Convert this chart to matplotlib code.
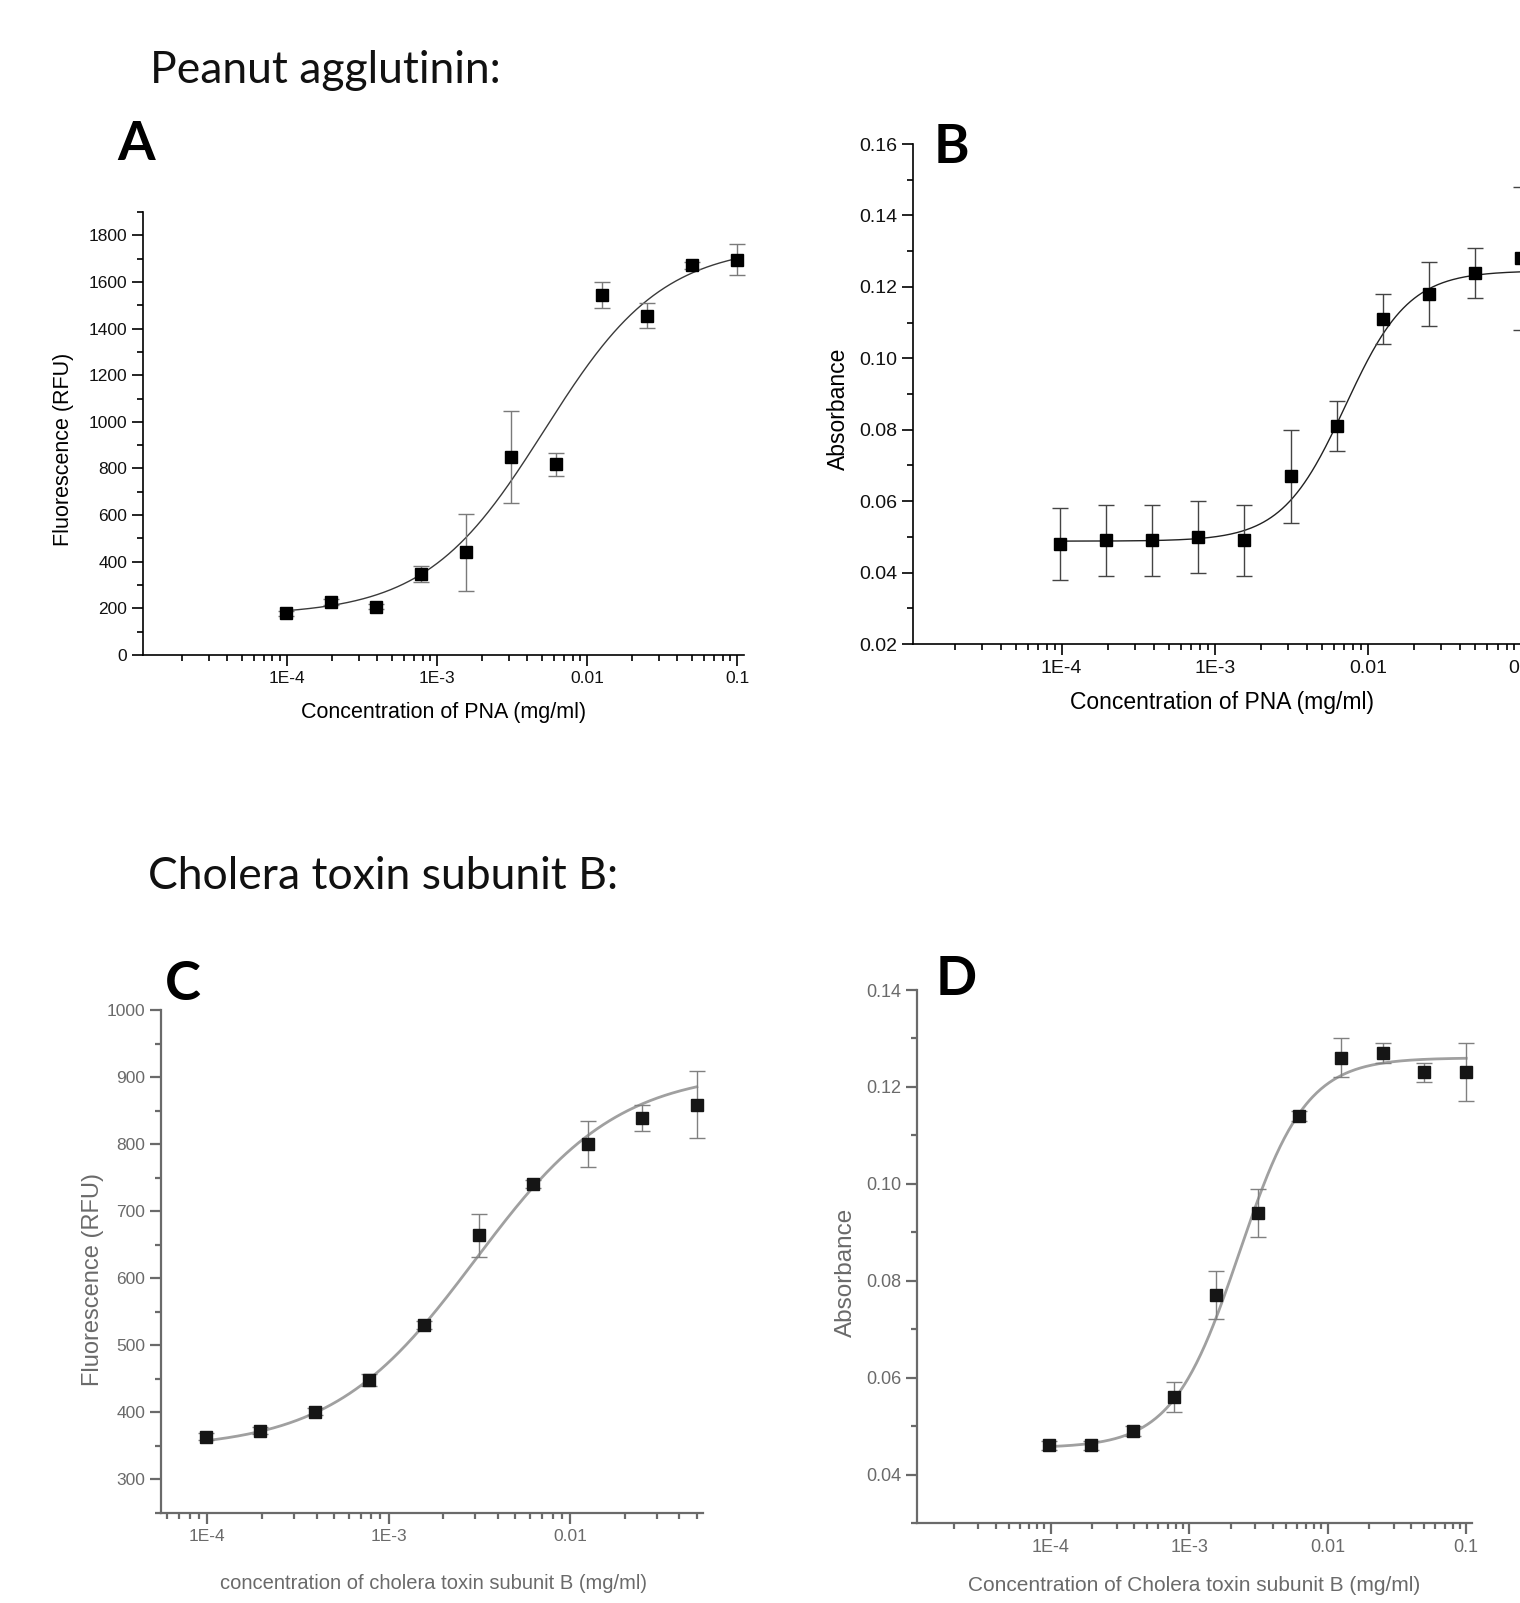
import numpy as np
import matplotlib
matplotlib.use("Agg")
import matplotlib.pyplot as plt
from matplotlib.ticker import FixedLocator, FixedFormatter, LogLocator, MultipleLocator, NullFormatter, FormatStrFormatter

plt.rcParams['font.family'] = ['Liberation Sans', 'DejaVu Sans']

# two-fold serial dilutions (mg/ml)
conc_11 = [0.0000977, 0.000195, 0.000391, 0.000781, 0.00156, 0.00313, 0.00625, 0.0125, 0.025, 0.05, 0.1]
conc_10 = [0.0000977, 0.000195, 0.000391, 0.000781, 0.00156, 0.00313, 0.00625, 0.0125, 0.025, 0.05]

# A: PNA fluorescence
rfu_pna = [178, 227, 208, 347, 440, 849, 818, 1545, 1456, 1671, 1696]
rfu_pna_err = [12, 14, 12, 34, 165, 196, 49, 56, 55, 14, 68]
# B: PNA absorbance
abs_pna = [0.048, 0.049, 0.049, 0.050, 0.049, 0.067, 0.081, 0.111, 0.118, 0.124, 0.128]
abs_pna_err = [0.010, 0.010, 0.010, 0.010, 0.010, 0.013, 0.007, 0.007, 0.009, 0.007, 0.020]
# C: CTB fluorescence
rfu_ctb = [364, 373, 401, 448, 530, 664, 741, 800, 839, 859]
rfu_ctb_err = [5, 5, 5, 9, 6, 32, 6, 34, 20, 50]
# D: CTB absorbance
abs_ctb = [0.046, 0.046, 0.049, 0.056, 0.077, 0.094, 0.114, 0.126, 0.127, 0.123, 0.123]
abs_ctb_err = [0.001, 0.001, 0.001, 0.003, 0.005, 0.005, 0.001, 0.004, 0.002, 0.002, 0.006]

# logistic fit parameters: bottom, top, EC50, hill slope
fit_a = (170, 1760, 5.2e-3, 1.1)
fit_b = (0.0488, 0.1245, 7.1e-3, 2.1)
fit_c = (345, 910, 3.0e-3, 1.1)
fit_d = (0.0455, 0.126, 2.3e-3, 1.8)

xtick_vals = [1e-4, 1e-3, 1e-2, 1e-1]
xtick_labels = ["1E-4", "1E-3", "0.01", "0.1"]


def logistic(x, p):
    b, t, ec, n = p
    return b + (t - b) / (1 + (ec / x) ** n)


W, H = 1520, 1603
fig = plt.figure(figsize=(W / 100, H / 100), dpi=100)


def px_axes(left, top, right, bottom):
    return fig.add_axes([left / W, 1 - bottom / H, (right - left) / W, (bottom - top) / H])


def style(ax, col, lw, tick_fs):
    for s in ("top", "right"):
        ax.spines[s].set_visible(False)
    for s in ("left", "bottom"):
        ax.spines[s].set_color(col)
        ax.spines[s].set_linewidth(lw)
    ax.set_xscale("log")
    ax.xaxis.set_major_locator(FixedLocator(xtick_vals))
    ax.xaxis.set_major_formatter(FixedFormatter(xtick_labels))
    ax.xaxis.set_minor_locator(LogLocator(base=10, subs=np.arange(2, 10), numticks=50))
    ax.xaxis.set_minor_formatter(NullFormatter())
    ax.tick_params(which="major", direction="out", length=8, width=lw, color=col,
                   labelsize=tick_fs, labelcolor=col if col != "black" else "#111")
    ax.tick_params(which="minor", direction="out", length=4, width=lw, color=col)
    ax.patch.set_alpha(0)


def panel(ax, x, y, err, fit, xmax_curve, mcol, ecol, ccol, clw):
    xs = np.logspace(np.log10(x[0]), np.log10(xmax_curve), 400)
    ax.plot(xs, logistic(xs, fit), color=ccol, lw=clw, zorder=2)
    ax.errorbar(x, y, yerr=err, fmt="s", color=mcol, ms=8, ecolor=ecol,
                elinewidth=1.0, capsize=6, capthick=1.0, zorder=3, clip_on=False)


# ---- A ----
axA = px_axes(143, 212, 744, 655)
style(axA, "black", 1.2, 12.5)
panel(axA, conc_11, rfu_pna, rfu_pna_err, fit_a, 0.1, "black", "#7a7a7a", "#3a3a3a", 1.0)
axA.set_xlim(10 ** -4.96, 10 ** -0.954)
axA.set_ylim(0, 1900)
axA.yaxis.set_major_locator(FixedLocator(np.arange(0, 1801, 200)))
axA.yaxis.set_minor_locator(MultipleLocator(100))
axA.set_ylabel("Fluorescence (RFU)", fontsize=15.5, va="center")
axA.set_xlabel("Concentration of PNA (mg/ml)", fontsize=15.5, va="center")
axA.yaxis.set_label_coords(-0.133, 0.465)
axA.xaxis.set_label_coords(0.5, -0.129)

# ---- B ----
axB = px_axes(913, 144, 1552, 644)
style(axB, "black", 1.2, 14)
panel(axB, conc_11, abs_pna, abs_pna_err, fit_b, 0.16, "black", "#444444", "#222222", 1.0)
axB.set_xlim(10 ** -4.97, 10 ** -0.8)
axB.set_ylim(0.02, 0.16)
axB.yaxis.set_major_locator(FixedLocator(np.arange(0.02, 0.161, 0.02)))
axB.yaxis.set_major_formatter(FormatStrFormatter("%.2f"))
axB.yaxis.set_minor_locator(MultipleLocator(0.01))
axB.set_ylabel("Absorbance", fontsize=16.5, va="center")
axB.set_xlabel("Concentration of PNA (mg/ml)", fontsize=16.5, va="center")
axB.yaxis.set_label_coords(-0.117, 0.47)
axB.xaxis.set_label_coords(0.483, -0.116)

# ---- C ----
grey = "#6a6a6a"
axC = px_axes(161, 1010, 703, 1513)
style(axC, grey, 1.6, 12.5)
panel(axC, conc_10, rfu_ctb, rfu_ctb_err, fit_c, 0.05, "#151515", "#808080", "#a0a0a0", 2.0)
axC.set_xlim(10 ** -4.256, 10 ** -1.267)
axC.set_ylim(250, 1000)
axC.yaxis.set_major_locator(FixedLocator(np.arange(300, 1001, 100)))
axC.yaxis.set_minor_locator(MultipleLocator(50))
axC.set_ylabel("Fluorescence (RFU)", fontsize=17, va="center", color=grey)
axC.set_xlabel("concentration of cholera toxin subunit B (mg/ml)", fontsize=14.5, va="center", color=grey)
axC.yaxis.set_label_coords(-0.126, 0.465)
axC.xaxis.set_label_coords(0.502, -0.14)

# ---- D ----
axD = px_axes(917, 990, 1472, 1523)
style(axD, grey, 1.6, 13)
panel(axD, conc_11, abs_ctb, abs_ctb_err, fit_d, 0.1, "#151515", "#808080", "#a0a0a0", 2.0)
axD.set_xlim(10 ** -4.965, 10 ** -0.958)
axD.set_ylim(0.03, 0.14)
axD.yaxis.set_major_locator(FixedLocator(np.arange(0.04, 0.141, 0.02)))
axD.yaxis.set_major_formatter(FormatStrFormatter("%.2f"))
axD.yaxis.set_minor_locator(MultipleLocator(0.01))
axD.set_ylabel("Absorbance", fontsize=17.5, va="center", color=grey)
axD.set_xlabel("Concentration of Cholera toxin subunit B (mg/ml)", fontsize=15, va="center", color=grey)
axD.yaxis.set_label_coords(-0.128, 0.47)
axD.xaxis.set_label_coords(0.5, -0.117)

# headings and panel letters
head = ["Lato", "DejaVu Sans"]
fig.text(150 / W, 1 - 83 / H, "Peanut agglutinin:", fontsize=32, family=head, color="#111", va="baseline")
fig.text(148 / W, 1 - 889 / H, "Cholera toxin subunit B:", fontsize=32, family=head, color="#111", va="baseline")
for lx, ly, letter in [(117, 160, "A"), (934, 163, "B"), (165, 1000, "C"), (936, 995, "D")]:
    fig.text(lx / W, 1 - ly / H, letter, fontsize=39, family=head, weight="bold", color="black", va="baseline")

fig.savefig("out.png", dpi=100)
